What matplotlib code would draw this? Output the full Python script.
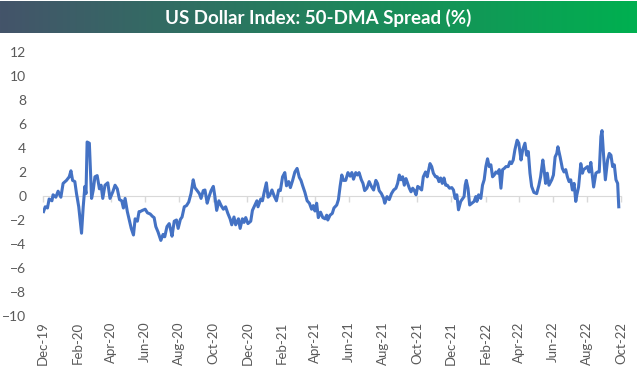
import matplotlib
matplotlib.use("Agg")
import matplotlib.pyplot as plt
import matplotlib.dates as mdates
import numpy as np
import pandas as pd

# days after 2019-12-01 and the 50-DMA spread in %
days = [1, 4, 8, 11, 16, 18, 23, 27, 32, 36, 42, 47, 50, 53, 57, 60, 64, 69, 72, 75,
        77, 79, 83, 85, 87, 90, 93, 97, 101, 104, 107, 111, 116, 120, 125, 129, 133, 137, 141, 144,
        147, 151, 154, 158, 162, 165, 169, 172, 174, 178, 183, 187, 192, 196, 199, 202, 206, 211, 215, 218,
        222, 226, 229, 231, 235, 239, 242, 246, 249, 253, 257, 261, 265, 269, 272, 276, 280, 283, 287, 290,
        294, 297, 301, 305, 308, 311, 315, 319, 323, 327, 331, 335, 338, 342, 345, 350, 353, 357, 360, 363,
        367, 372, 375, 379, 383, 385, 390, 393, 396, 400, 403, 406, 410, 414, 418, 422, 425, 429, 433, 436,
        440, 443, 447, 451, 455, 459, 462, 465, 469, 473, 477, 481, 484, 487, 490, 493, 497, 501, 505, 508,
        510, 514, 518, 521, 526, 529, 532, 535, 538, 542, 546, 550, 553, 556, 560, 563, 566, 570, 573, 576,
        580, 584, 588, 592, 596, 599, 602, 606, 610, 612, 616, 620, 624, 628, 632, 635, 638, 641, 644, 647,
        650, 653, 656, 659, 662, 665, 668, 671, 675, 678, 681, 685, 688, 693, 696, 699, 703, 706, 709, 712,
        715, 718, 721, 724, 728, 732, 735, 738, 741, 744, 748, 751, 754, 756, 758, 761, 764, 768, 772, 775,
        777, 780, 784, 787, 790, 793, 796, 799, 802, 805, 808, 811, 814, 817, 820, 823, 826, 829, 833, 836,
        839, 842, 845, 849, 852, 856, 859, 863, 866, 869, 872, 875, 879, 884, 888, 891, 895, 897, 900, 903,
        906, 911, 914, 917, 920, 922, 926, 930, 933, 936, 939, 942, 945, 948, 951, 954, 956, 959, 963, 966,
        968, 971, 975, 978, 981, 984, 986, 990, 993, 996, 999, 1001, 1004, 1007, 1011, 1014, 1017, 1020, 1023, 1026,
        1029, 1031]
spread = [-1.3, -0.9, -1.0, -0.25, -0.4, 0.1, -0.1, 0.4, -0.1, 1.05, 1.3, 1.6, 2.1, 1.3, 1.2, 0.2, -0.9, -3.1, -0.9, 0.8,
          0.2, 4.5, 4.4, 2.2, -0.2, 0.5, 1.6, 1.7, 0.6, 0.9, -0.2, 0.9, 1.1, -0.2, 0.35, 0.9, 0.6, -0.3, -0.4, -1.0,
          -0.2, -1.3, -1.9, -2.7, -3.25, -1.9, -2.1, -1.3, -1.3, -1.2, -1.1, -1.4, -1.5, -1.7, -1.8, -2.55, -3.0, -3.7, -3.2, -3.4,
          -2.55, -2.3, -2.9, -3.35, -2.1, -2.0, -2.7, -1.95, -1.75, -0.9, -0.8, -0.5, 0.2, 1.35, 0.7, 0.45, 0.2, -0.2, 0.45, 0.5,
          -0.6, -0.1, 0.45, 0.8, -0.1, -1.2, -0.4, -0.8, -1.1, -0.9, -1.45, -1.9, -2.4, -1.75, -2.4, -1.9, -2.7, -1.9, -2.2, -1.8,
          -2.3, -2.1, -1.2, -0.8, -0.4, -0.9, -0.25, -0.4, 0.3, 1.1, -0.1, 0.05, 0.5, 0.0, -0.4, 0.5, 0.45, 1.6, 1.95, 0.85,
          1.2, 0.7, 1.3, 2.0, 2.3, 1.55, 1.3, 0.85, 0.3, -0.4, -0.6, -1.1, -0.8, -1.25, -0.6, -1.8, -1.35, -1.8, -1.9, -1.6,
          -2.0, -1.6, -1.45, -1.0, -0.75, -0.3, 0.8, 1.75, 1.3, 1.3, 1.95, 1.65, 1.95, 1.4, 1.95, 1.75, 1.95, 1.35, 1.05, 0.45,
          0.65, 1.2, 0.8, 0.5, 1.3, 1.05, 0.45, 0.2, -0.2, -0.6, -0.05, -0.3, 0.2, 0.5, 0.65, 1.05, 1.75, 1.35, 1.6, 0.9,
          1.45, 1.05, 0.65, 0.35, 0.65, 0.45, 0.1, 0.8, 0.65, 0.5, 1.6, 2.0, 1.6, 2.7, 2.45, 1.9, 1.6, 1.6, 1.2, 1.5,
          1.05, 1.5, 0.9, 0.9, 0.65, 0.7, 0.5, -0.2, 0.1, -1.15, -0.45, -0.25, -0.05, 0.9, 1.3, 0.65, -0.75, -0.6, -0.45, -0.05,
          -0.45, 0.1, -0.2, 0.9, 1.35, 2.45, 3.1, 2.45, 2.6, 1.6, 1.75, 2.0, 1.9, 2.2, 0.65, 2.2, 2.3, 2.45, 2.45, 2.85,
          2.7, 3.0, 3.85, 4.65, 4.4, 3.0, 3.85, 4.4, 3.4, 3.7, 1.9, 0.8, 0.3, 0.2, 0.9, 1.6, 3.0, 2.3, 1.05, 1.9,
          0.9, 1.35, 1.75, 3.25, 3.55, 4.1, 3.25, 2.3, 2.0, 2.2, 1.6, 1.2, 1.35, 0.5, 1.05, -0.45, 0.1, 0.75, 2.7, 1.9,
          2.2, 2.3, 2.45, 2.0, 2.8, 1.6, 0.75, 1.9, 2.0, 2.0, 4.95, 5.45, 3.25, 1.35, 3.0, 3.55, 3.4, 2.45, 2.6, 1.35,
          1.05, -0.9]

start = pd.Timestamp("2019-12-01")
end = pd.Timestamp("2022-10-01")
dates = start + pd.to_timedelta(days, unit="D")
yticks = list(range(-10, 13, 2))

label_color = "#595959"
font = "Lato"

fig = plt.figure(figsize=(6.37, 3.82), dpi=100)

# gradient title bar
bar = fig.add_axes([0, 1 - 33 / 382, 1, 32 / 382])
left = np.array([0x44, 0x54, 0x6A]) / 255
right = np.array([0x00, 0xB0, 0x50]) / 255
t = np.linspace(0, 1, 256)[None, :, None]
grad = left * (1 - t) + right * t
bar.imshow(grad, aspect="auto", extent=[0, 1, 0, 1])
bar.set_axis_off()
bar.text(0.5, 0.47, "US Dollar Index: 50-DMA Spread (%)", color="white",
         fontsize=13.5, fontweight="bold", family=font, ha="center", va="center")

ax = fig.add_axes([43 / 637, 1 - 316 / 382, 578 / 637, 264 / 382])
ax.plot(dates, spread, color="#4472C4", lw=2.2, solid_joinstyle="round", zorder=3)
ax.set_xlim(start, end)
ax.set_ylim(-10, 12)
ax.set_yticks(yticks)

for s in ax.spines.values():
    s.set_visible(False)

ticks = pd.date_range(start, end, freq="2MS")
ax.set_xticks(ticks)
ax.xaxis.set_major_formatter(mdates.DateFormatter("%b-%y"))
ax.tick_params(axis="x", length=0, labelrotation=90, labelsize=9.5, colors=label_color, pad=4)
ax.tick_params(axis="y", length=0, labelsize=10, colors=label_color, pad=12)
for lab in ax.get_xticklabels() + ax.get_yticklabels():
    lab.set_family(font)

# zero line with small tick marks, like the Excel category axis
zero = ax.secondary_xaxis(10 / 22)
zero.set_xticks(ticks)
zero.tick_params(length=4, width=1, color="#D9D9D9", labelbottom=False, labeltop=False)
zero.spines["bottom"].set_color("#D9D9D9")
zero.spines["top"].set_visible(False)

fig.savefig("out.png", dpi=100)
